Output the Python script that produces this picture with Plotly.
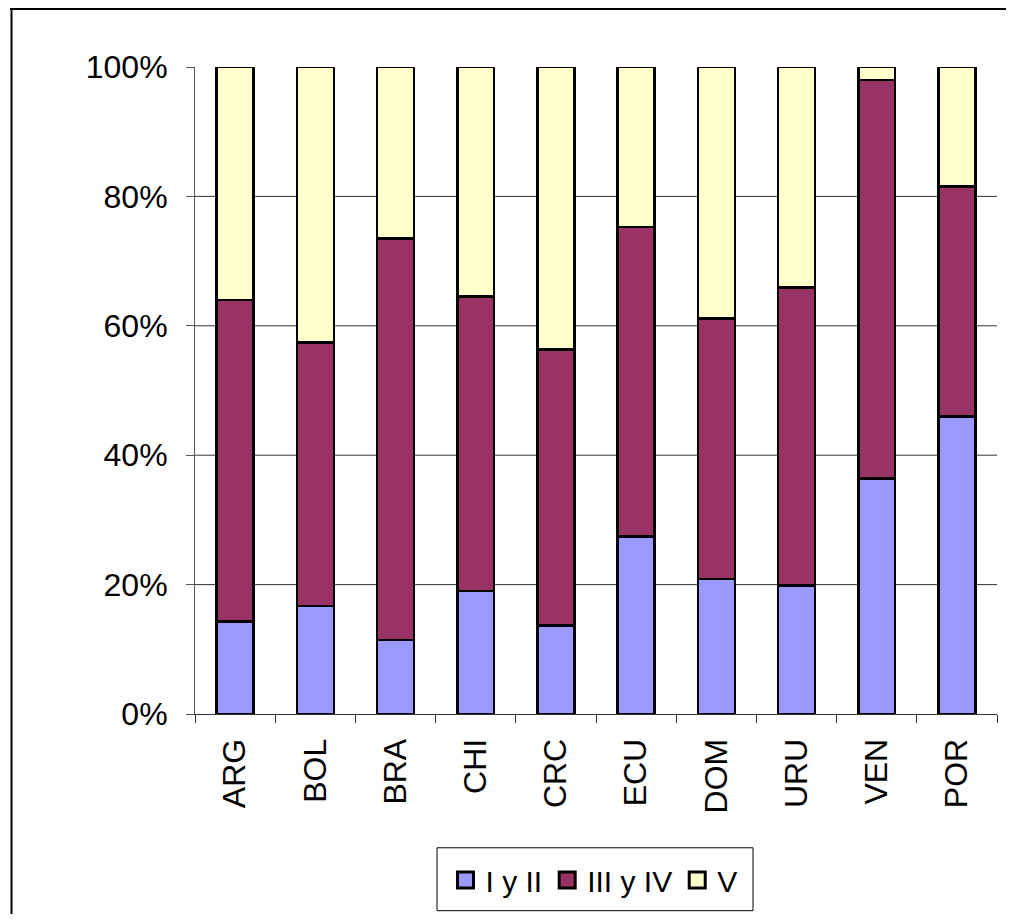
import plotly.graph_objects as go

countries = ["ARG", "BOL", "BRA", "CHI", "CRC", "ECU", "DOM", "URU", "VEN", "POR"]
i_y_ii = [14.3, 16.7, 11.4, 19.0, 13.7, 27.4, 20.9, 19.9, 36.4, 46.0]
iii_y_iv = [49.7, 40.7, 62.1, 45.5, 42.6, 47.9, 40.2, 46.0, 61.6, 35.5]
v_share = [36.0, 42.6, 26.5, 35.5, 43.7, 24.7, 38.9, 34.1, 2.0, 18.5]

series_names = ["I y II", "III y IV", "V"]
series_values = [i_y_ii, iii_y_iv, v_share]
colors = ["#9999FF", "#993366", "#FFFFCC"]

y_tickvals = [0, 20, 40, 60, 80, 100]
y_ticktext = ["0%", "20%", "40%", "60%", "80%", "100%"]

FONT = "Liberation Sans, Arial, sans-serif"

OFF = 8  # page body margin
W, H = 1014 - 2 * OFF, 922 - 2 * OFF
L, T = 195 - OFF, 67 - OFF
R = W - (997 - OFF)
B = H - (715 - OFF)
pw = W - L - R
ph = H - T - B

def px_x(p):
    return (p - OFF - L) / pw

def px_y(p):
    return (H - B - (p - OFF)) / ph

fig = go.Figure()
for name, vals, col in zip(series_names, series_values, colors):
    fig.add_trace(go.Bar(
        x=countries, y=vals, name=name, showlegend=False,
        marker=dict(color=col, line=dict(color="black", width=2.5)),
        width=0.46,
    ))
# legend entries
for name, col in zip(series_names, colors):
    fig.add_trace(go.Scatter(
        x=[None], y=[None], mode="markers", name=name,
        marker=dict(symbol="square", size=16, color=col,
                    line=dict(color="black", width=3)),
    ))

fig.update_layout(
    width=W, height=H,
    margin=dict(l=L, r=R, t=T, b=B, pad=0),
    barmode="stack",
    plot_bgcolor="white", paper_bgcolor="white",
    font=dict(family=FONT, size=30, color="black"),
    legend=dict(
        orientation="h", x=px_x(594), xanchor="center",
        y=px_y(880), yanchor="middle",
        borderwidth=0, bgcolor="rgba(0,0,0,0)",
        font=dict(size=30), itemwidth=30,
        traceorder="normal",
    ),
    xaxis=dict(
        type="category", tickangle=-90,
        showline=True, linecolor="#333333", linewidth=1,
        ticks="outside", ticklen=8, tickcolor="#333333",
        tickson="boundaries", showgrid=False,
        ticklabelstandoff=11,
        tickfont=dict(size=32),
    ),
    yaxis=dict(
        range=[0, 100], tickmode="array",
        tickvals=y_tickvals, ticktext=y_ticktext,
        showline=True, linecolor="#555555", linewidth=1,
        ticks="outside", ticklen=8, tickcolor="#555555",
        showgrid=False, zeroline=False,
        ticklabelstandoff=12,
        tickfont=dict(size=32),
    ),
    shapes=[
        dict(type="line", xref="paper", yref="y", x0=0, x1=1, y0=g, y1=g,
             line=dict(color="#333333", width=1), layer="below")
        for g in [20, 40, 60, 80]
    ] + [
        # outer frame: top and left edges (others fall outside the image)
        dict(type="line", xref="paper", yref="paper",
             x0=px_x(10), x1=px_x(1014), y0=px_y(9), y1=px_y(9),
             line=dict(color="black", width=2)),
        dict(type="line", xref="paper", yref="paper",
             x0=px_x(11.5), x1=px_x(11.5), y0=px_y(8), y1=px_y(922),
             line=dict(color="black", width=2)),
        dict(type="rect", xref="paper", yref="paper",
             x0=px_x(437), x1=px_x(753), y0=px_y(849), y1=px_y(912),
             line=dict(color="black", width=1), fillcolor="rgba(0,0,0,0)"),
    ],
)

fig.write_html("out.html")
